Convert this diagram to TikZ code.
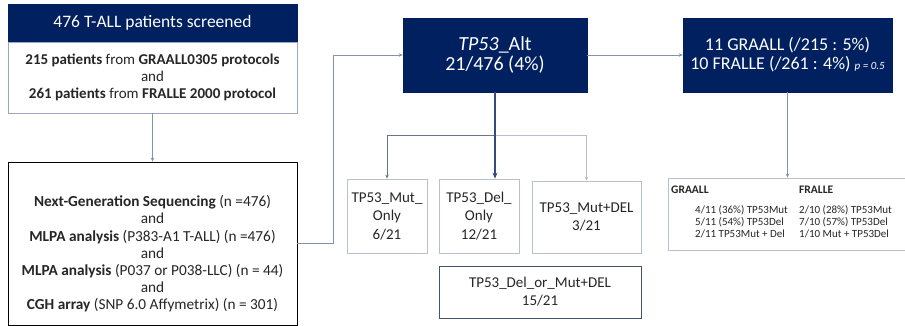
\documentclass[tikz,border=0pt]{standalone}
\usepackage{fontspec}
\setmainfont{Carlito}
\usepackage{tikz}
\usetikzlibrary{arrows.meta, positioning, calc}

\definecolor{navy}{RGB}{0,32,96}
\definecolor{linkgray}{RGB}{132,146,176}
\definecolor{boxgray}{RGB}{184,192,206}
\definecolor{slate}{RGB}{68,84,106}
\definecolor{inkgray}{RGB}{38,38,38}

\tikzstyle{darkbox} = [
  rectangle, draw=navy, fill=navy, text=white,
  align=center, inner sep=0pt
]
\tikzstyle{whitebox} = [
  rectangle, draw=boxgray, fill=white, text=inkgray,
  align=center, inner sep=0pt, line width=0.8pt
]
\tikzstyle{arrow} = [-{Stealth[length=4pt, width=3.5pt]}, linkgray, line width=0.8pt]
\tikzstyle{mainarrow} = [-{Stealth[length=6pt, width=5pt]}, navy!80, line width=1.6pt]

\begin{document}
\begin{tikzpicture}[x=1pt, y=-1pt]

  \useasboundingbox (0,0) rectangle (905,326);

  \node[darkbox, minimum width=289pt, minimum height=38pt, font=\fontsize{17.5}{20}\selectfont] (screened) at (152.5, 23) {476 T-ALL patients screened};
  \node[whitebox, draw=linkgray!80, minimum width=289pt, minimum height=71pt, font=\fontsize{15}{17}\selectfont] (cohorts) at (152.5, 77.5)
    {\textbf{215 patients} from \textbf{GRAALL0305 protocols}\\and\\\textbf{261 patients} from \textbf{FRALLE 2000 protocol}};

  \node[whitebox, draw=black, minimum width=289pt, minimum height=163pt] (methods) at (152.5, 243.5) {};
  \node[align=center, text=inkgray, inner sep=0pt, font=\fontsize{15.3}{17.2}\selectfont] (methodstext) at (152.5, 254)
    {\textbf{Next-Generation Sequencing} (n =476)\\and\\
     \textbf{MLPA analysis} (P383-A1 T-ALL) (n =476)\\and\\
     \textbf{MLPA analysis} (P037 or P038-LLC) (n = 44)\\and\\
     \textbf{CGH array} (SNP 6.0 Affymetrix) (n = 301)};

  \node[darkbox, minimum width=184pt, minimum height=74pt, font=\fontsize{20}{20}\selectfont] (alt) at (495, 55) {\textit{TP53}\_Alt\\21/476 (4\%)};
  \node[darkbox, minimum width=209pt, minimum height=74pt, font=\fontsize{18}{19}\selectfont] (cohortsplit) at (787.5, 55)
    {11 GRAALL (/215 : 5\%)\\10 FRALLE (/261 : 4\%) {\fontsize{11}{11}\selectfont\textit{p = 0.5}}};

  \node[whitebox, minimum width=80pt, minimum height=74pt, font=\fontsize{15}{18.5}\selectfont] (mutonly) at (387, 216) {TP53\_Mut\_\\Only\\6/21};
  \node[whitebox, minimum width=80pt, minimum height=74pt, font=\fontsize{15}{18.5}\selectfont] (delonly) at (479, 216) {TP53\_Del\_\\Only\\12/21};
  \node[whitebox, minimum width=109pt, minimum height=72pt, font=\fontsize{15}{18.5}\selectfont] (mutdel) at (586.5, 217) {TP53\_Mut+DEL\\3/21};
  \node[whitebox, draw=slate, line width=1pt, minimum width=202pt, minimum height=52pt, font=\fontsize{15}{18}\selectfont] (delormut) at (540, 292) {TP53\_Del\_or\_Mut+DEL\\15/21};

  \node[whitebox, minimum width=244pt, minimum height=72pt] (groups) at (790, 214) {};
  \node[anchor=west, text=inkgray, inner sep=0pt, font=\fontsize{11.5}{11.7}\selectfont\bfseries] (graalllabel) at (671, 190) {GRAALL};
  \node[anchor=west, align=left, text=inkgray, inner sep=0pt, font=\fontsize{11}{11.8}\selectfont] (graalllines) at (695, 222)
    {4/11 (36\%) TP53Mut\\5/11 (54\%) TP53Del\\2/11 TP53Mut + Del};
  \node[anchor=west, text=inkgray, inner sep=0pt, font=\fontsize{11.5}{11.7}\selectfont\bfseries] (frallelabel) at (799, 190) {FRALLE};
  \node[anchor=west, align=left, text=inkgray, inner sep=0pt, font=\fontsize{11}{11.8}\selectfont] (frallelines) at (799, 222)
    {2/10 (28\%) TP53Mut\\7/10 (57\%) TP53Del\\1/10 Mut + TP53Del};

  \draw[arrow] (cohorts.south) -- (methods.north);
  \draw[arrow] (methods.east) -- ++(36,0) |- (alt.west);
  \draw[arrow] (alt.east) -- (cohortsplit.west);
  \draw[arrow] (cohortsplit.south) -- (cohortsplit.south |- groups.north);

  \coordinate (branch) at ($(alt.south)+(0,43)$);
  \draw[arrow, slate!80] (branch) -| (mutonly.north);
  \draw[arrow, boxgray] (branch) -| (mutdel.north);
  \draw[mainarrow] (alt.south) -- (alt.south |- delonly.north);

\end{tikzpicture}
\end{document}
